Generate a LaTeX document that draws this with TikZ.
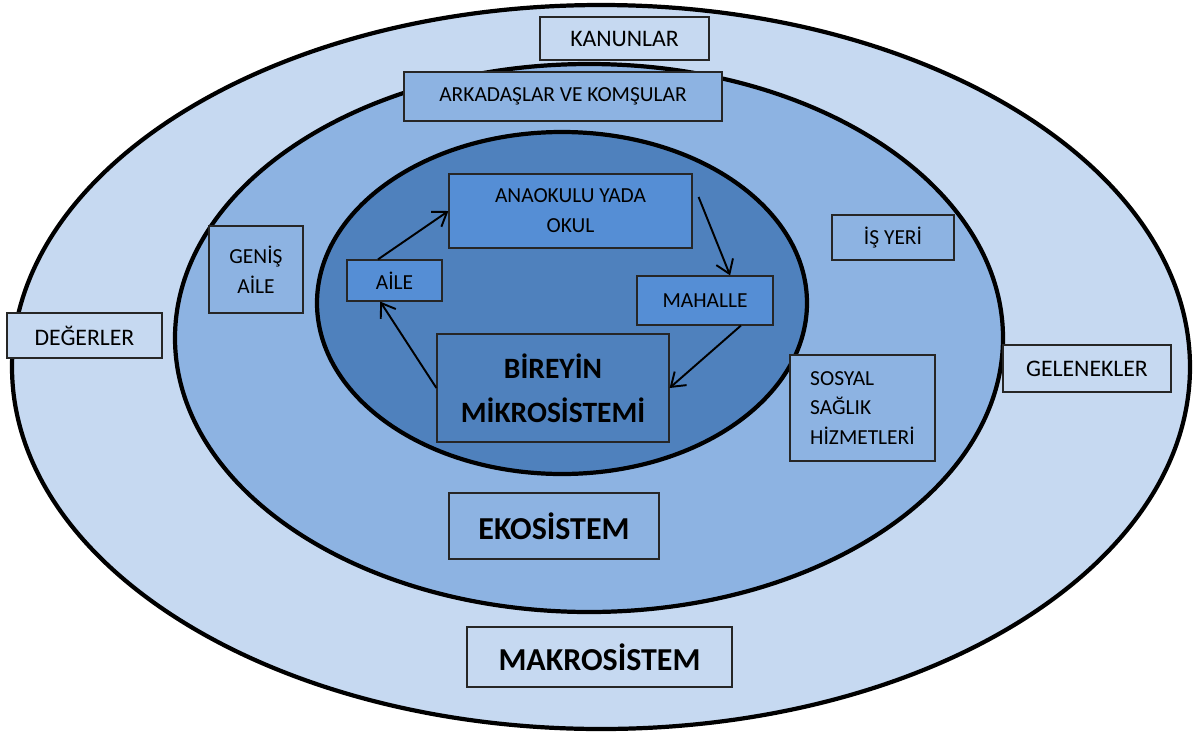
\documentclass[tikz,border=0pt]{standalone}
\usepackage{fontspec}
\setmainfont{Carlito}
\usepackage{xcolor}
\usepackage{tikz}
\usetikzlibrary{arrows.meta}

\definecolor{makroblue}{HTML}{C6D9F1}
\definecolor{ekoblue}{HTML}{8DB3E2}
\definecolor{mikroblue}{HTML}{4F81BD}
\definecolor{boxblue}{HTML}{558ED5}

\begin{document}
\begin{tikzpicture}[x=0.02cm, y=-0.02cm]
\tikzstyle{ring} = [draw=black, line width=2.4pt]
\tikzstyle{label} = [rectangle, draw=black!85, line width=0.7pt, text centered, align=center, inner sep=2pt, font=\fontsize{12.2}{17}\selectfont]
\tikzstyle{biglabel} = [label, font=\fontsize{13.5}{17}\selectfont]
\tikzstyle{title} = [rectangle, draw=black!85, line width=0.7pt, text centered, align=center, inner sep=2pt, font=\fontsize{18.2}{23}\selectfont\bfseries]
\tikzstyle{arrow} = [line width=1.1pt, -{Straight Barb[length=2.6mm,width=3.6mm]}]
\useasboundingbox (0,0) rectangle (1198,731);

% Rings
\draw [ring, fill=makroblue] (601,367) ellipse [x radius=589, y radius=362];
\draw [ring, fill=ekoblue] (589,338) ellipse [x radius=414, y radius=274];
\draw [ring, fill=mikroblue] (562,303) ellipse [x radius=245, y radius=171];

% Nodes
\node (kanun) [biglabel, fill=makroblue, minimum width=3.38cm, minimum height=0.86cm] at (624.5,38.5) {KANUNLAR};
\node (arkadas) [label, fill=ekoblue, minimum width=6.36cm, minimum height=0.98cm] at (563,96.5) {ARKADAŞLAR VE KOMŞULAR};
\node (okul) [label, fill=boxblue, minimum width=4.86cm, minimum height=1.48cm] at (570.5,211) {ANAOKULU YADA\\OKUL};
\node (aile) [label, fill=boxblue, minimum width=1.90cm, minimum height=0.82cm] at (394.5,280.5) {AİLE};
\node (mahalle) [label, fill=boxblue, minimum width=2.72cm, minimum height=0.98cm] at (705,300.5) {MAHALLE};
\node (birey) [title, fill=mikroblue, minimum width=4.64cm, minimum height=2.16cm, font=\fontsize{16.8}{25}\selectfont\bfseries] at (553,388) {BİREYİN\\MİKROSİSTEMİ};
\node (genis) [label, fill=ekoblue, minimum width=1.88cm, minimum height=1.74cm] at (256,269.5) {GENİŞ\\AİLE};
\node (degerler) [biglabel, fill=makroblue, minimum width=3.10cm, minimum height=0.90cm] at (84.5,335.5) {DEĞERLER};
\node (isyeri) [label, fill=ekoblue, minimum width=2.44cm, minimum height=0.90cm] at (893,237.5) {İŞ YERİ};
\node (gelenek) [biglabel, fill=makroblue, minimum width=3.36cm, minimum height=0.94cm] at (1087,368.5) {GELENEKLER};
\node (saglik) [label, align=left, fill=ekoblue, minimum width=2.90cm, minimum height=2.12cm] at (862.5,408) {SOSYAL\\SAĞLIK\\HİZMETLERİ};
\node (eko) [title, fill=ekoblue, minimum width=4.20cm, minimum height=1.32cm] at (554,526) {EKOSİSTEM};
\node (makro) [title, fill=makroblue, minimum width=5.30cm, minimum height=1.20cm] at (599.5,657) {MAKROSİSTEM};

% Arrows
\draw [arrow] (aile.128) -- (okul.west);
\draw [arrow] ([shift={(6,-14)}]okul.east) -- (mahalle.45);
\draw [arrow] (mahalle.325) -- (birey.east);
\draw [arrow] (birey.west) -- (aile.236);

\end{tikzpicture}
\end{document}
